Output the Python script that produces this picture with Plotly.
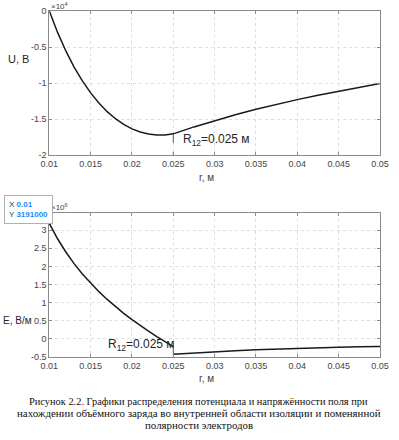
import plotly.graph_objects as go

# ---------------- data ----------------
r_u = [0.010, 0.011, 0.012, 0.013, 0.014, 0.015, 0.016, 0.017, 0.018, 0.019,
       0.020, 0.021, 0.022, 0.023, 0.024, 0.025,
       0.0275, 0.030, 0.0325, 0.035, 0.0375, 0.040, 0.0425, 0.045, 0.0475, 0.050]
u_vals = [0, -2972, -5549, -7783, -9714, -11375, -12789, -13980, -14964, -15756,
          -16369, -16813, -17096, -17228, -17215, -17063,
          -16099, -15219, -14409, -13659, -12962, -12309, -11696, -11117, -10571, -10052]

r_e_in = [0.010, 0.011, 0.012, 0.013, 0.014, 0.015, 0.016, 0.017, 0.018, 0.019,
          0.020, 0.021, 0.022, 0.023, 0.024, 0.025]
e_in = [3191000, 2765000, 2398000, 2076000, 1791000, 1534000, 1300000, 1085000,
        886000, 701000, 527000, 362000, 207000, 58000, -84000, -220000]

r_e_out = [0.025, 0.0275, 0.030, 0.0325, 0.035, 0.0375, 0.040, 0.0425, 0.045, 0.0475, 0.050]
e_out = [-432000, -392700, -360000, -332300, -308600, -288000, -270000, -254100,
         -240000, -227400, -216000]

r12 = 0.025
u_r12 = -17063
e_r12 = -220000

x_ticks = [0.01, 0.015, 0.02, 0.025, 0.03, 0.035, 0.04, 0.045, 0.05]
x_ticktext = ["0.01", "0.015", "0.02", "0.025", "0.03", "0.035", "0.04", "0.045", "0.05"]
u_ticks = [0, -5000, -10000, -15000, -20000]
u_ticktext = ["0", "-0.5", "-1", "-1.5", "-2"]
e_ticks = [-500000, 0, 500000, 1000000, 1500000, 2000000, 2500000, 3000000]
e_ticktext = ["-0.5", "0", "0.5", "1", "1.5", "2", "2.5", "3"]

caption = [
    "Рисунок 2.2. Графики распределения потенциала и напряжённости поля при",
    "нахождении объёмного заряда во внутренней области изоляции и поменянной",
    "полярности электродов",
]

# ---------------- figure ----------------
W, H = 399, 440
LINE = "#1a1a1a"
AX = "#8a8a8a"
GRID = "#dedede"
TICKF = dict(family="Liberation Sans, Arial, sans-serif", size=9, color="#444444")
LABF = dict(family="Liberation Sans, Arial, sans-serif", size=11, color="#262626")
ELABF = dict(family="Liberation Sans, Arial, sans-serif", size=10, color="#262626")
R12F = dict(family="Liberation Sans, Arial, sans-serif", size=12, color="#262626")

fig = go.Figure()

fig.add_trace(go.Scatter(x=r_u, y=u_vals, mode="lines",
                         line=dict(color=LINE, width=1.5), xaxis="x", yaxis="y",
                         showlegend=False, hoverinfo="skip"))
fig.add_trace(go.Scatter(x=[r12, r12], y=[u_r12, u_ticks[-1]], mode="lines",
                         line=dict(color="#555555", width=1, dash="dash"),
                         xaxis="x", yaxis="y", showlegend=False, hoverinfo="skip"))

fig.add_trace(go.Scatter(x=r_e_in, y=e_in, mode="lines",
                         line=dict(color=LINE, width=1.5), xaxis="x2", yaxis="y2",
                         showlegend=False, hoverinfo="skip"))
fig.add_trace(go.Scatter(x=r_e_out, y=e_out, mode="lines",
                         line=dict(color=LINE, width=1.5), xaxis="x2", yaxis="y2",
                         showlegend=False, hoverinfo="skip"))
fig.add_trace(go.Scatter(x=[r12, r12], y=[e_r12, e_ticks[0]], mode="lines",
                         line=dict(color="#555555", width=1, dash="dash"),
                         xaxis="x2", yaxis="y2", showlegend=False, hoverinfo="skip"))
fig.add_trace(go.Scatter(x=[r_e_in[0]], y=[e_in[0]], mode="markers",
                         marker=dict(color="#111111", size=4), xaxis="x2", yaxis="y2",
                         showlegend=False, hoverinfo="skip"))

xl, xr = 49.3 / W, 380.0 / W
top_dom = [1 - 155.0 / H, 1 - 11.0 / H]
bot_dom = [1 - 356.7 / H, 1 - 212.7 / H]

axis_common = dict(showline=True, linecolor=AX, linewidth=1, mirror="ticks",
                   ticks="inside", ticklen=3, tickcolor=AX, automargin=False,
                   showgrid=True, gridcolor=GRID, griddash="dot", gridwidth=1,
                   zeroline=False, tickfont=TICKF)

fig.update_layout(
    width=W, height=H, margin=dict(l=0, r=0, t=0, b=0, pad=0, autoexpand=False),
    paper_bgcolor="white", plot_bgcolor="white",
    xaxis=dict(domain=[xl, xr], anchor="y", range=[0.01, 0.05],
               tickvals=x_ticks, ticktext=x_ticktext, **axis_common),
    yaxis=dict(domain=top_dom, anchor="x", range=[-20000, 0],
               tickvals=u_ticks, ticktext=u_ticktext, **axis_common),
    xaxis2=dict(domain=[xl, xr], anchor="y2", range=[0.01, 0.05],
                tickvals=x_ticks, ticktext=x_ticktext, **axis_common),
    yaxis2=dict(domain=bot_dom, anchor="x2", range=[-500000, 3486000],
                tickvals=e_ticks, ticktext=e_ticktext, **axis_common),
)

ann = []
# axis titles
ann.append(dict(text="U, B", x=6 / W, y=1 - 59 / H, xref="paper", yref="paper",
                xanchor="left", yanchor="middle", showarrow=False, font=LABF))
ann.append(dict(text="E, В/м", x=1 / W, y=1 - 320 / H, xref="paper", yref="paper",
                xanchor="left", yanchor="middle", showarrow=False, font=ELABF))
ann.append(dict(text="r, м", x=206 / W, y=1 - 177 / H, xref="paper", yref="paper",
                xanchor="center", yanchor="middle", showarrow=False,
                font=dict(family=TICKF["family"], size=10, color="#444444")))
ann.append(dict(text="r, м", x=206 / W, y=1 - 378 / H, xref="paper", yref="paper",
                xanchor="center", yanchor="middle", showarrow=False,
                font=dict(family=TICKF["family"], size=10, color="#444444")))
# exponent labels
ann.append(dict(text="×10<sup>4</sup>", x=49 / W, y=1 - 6 / H, xref="paper", yref="paper",
                xanchor="left", yanchor="middle", showarrow=False,
                font=dict(family=TICKF["family"], size=8, color="#444444")))
ann.append(dict(text="×10<sup>6</sup>", x=49 / W, y=1 - 207 / H, xref="paper", yref="paper",
                xanchor="left", yanchor="middle", showarrow=False,
                font=dict(family=TICKF["family"], size=8, color="#444444")))
# R12 labels
ann.append(dict(text="R<sub>12</sub>=0.025 м", x=0.0259, y=-17900, xref="x", yref="y",
                xanchor="left", yanchor="middle", showarrow=False, font=R12F))
ann.append(dict(text="R<sub>12</sub>=0.025 м", x=0.0169, y=-170000, xref="x2", yref="y2",
                xanchor="left", yanchor="middle", showarrow=False, font=R12F))
# data tip
tip = ("X <b><span style='color:#1a8cff'>0.01</span></b><br>"
       "Y <b><span style='color:#1a8cff'>3191000</span></b>")
ann.append(dict(text=tip, x=4 / W, y=1 - 195 / H, xref="paper", yref="paper",
                xanchor="left", yanchor="top", showarrow=False, align="left",
                bgcolor="white", bordercolor="#b0b0b0", borderwidth=1, borderpad=4,
                font=dict(family=TICKF["family"], size=8, color="#333333")))
# caption
cap_sizes = [10.4, 10.9, 10.9]
for line, yy, fs in zip(caption, [401.7, 413.3, 425.0], cap_sizes):
    ann.append(dict(text=line, x=198.5 / W, y=1 - yy / H, xref="paper", yref="paper",
                    xanchor="center", yanchor="middle", showarrow=False,
                    font=dict(family="Liberation Serif, Times New Roman, serif",
                              size=fs, color="#111111")))

fig.update_layout(annotations=ann)
fig.write_html("out.html", config={"displayModeBar": False},
               post_script="document.body.style.margin='0';document.body.style.overflow='hidden';")
